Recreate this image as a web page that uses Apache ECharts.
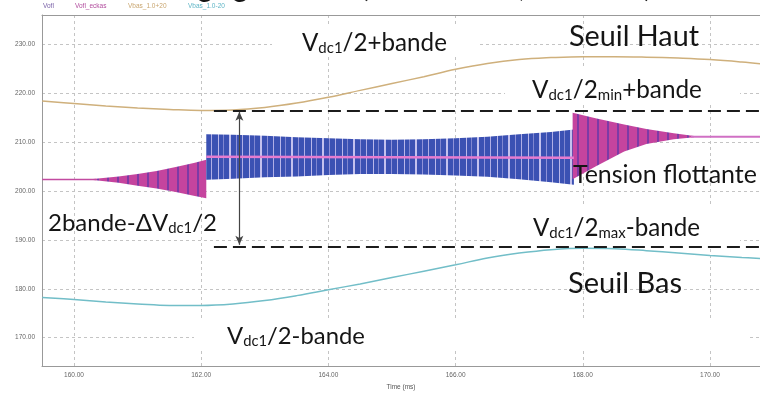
<!DOCTYPE html>
<html><head><meta charset="utf-8">
<script src="https://cdn.jsdelivr.net/npm/echarts@6/dist/echarts.min.js"></script>
<style>html,body{margin:0;padding:0;background:#fff}#c{width:760px;height:396px}</style>
</head><body><div id="c"></div>
<script>
// ---------- data ----------
const timeGrid = [159.5,160,160.5,161,161.5,162,162.5,163,163.5,164,164.5,165,165.5,166,166.5,167,167.5,168,168.5,169,169.5,170,170.5,170.8];
const seuilHaut = [218.4,217.9,217.4,217.0,216.7,216.5,216.6,217.1,218.0,219.2,220.6,222.0,223.4,224.9,226.1,226.9,227.3,227.5,227.5,227.4,227.2,226.9,226.4,226.0];
const seuilBas  = [178.2,177.8,177.3,176.9,176.6,176.6,176.9,177.6,178.6,179.8,181.0,182.3,183.6,184.9,186.3,187.3,188.0,188.3,188.2,187.8,187.3,186.8,186.4,186.2];

const preLineT = [159.5, 160.35];
const preLineV = [202.35, 202.35];
const leftWedgeT  = [160.3, 160.7, 161.0, 161.3, 161.6, 161.9, 162.08];
const leftWedgeHi = [202.45, 203.0, 203.5, 204.1, 204.9, 205.8, 206.4];
const leftWedgeLo = [202.25, 201.7, 201.1, 200.5, 199.8, 199.0, 198.5];

const bandT  = [162.08, 162.5, 163.0, 163.5, 164.0, 164.5, 165.0, 165.5, 166.0, 166.5, 167.0, 167.5, 167.86];
const bandHi = [211.6, 211.5, 211.3, 211.0, 210.8, 210.6, 210.5, 210.6, 210.8, 211.1, 211.6, 212.1, 212.6];
const bandLo = [202.3, 202.5, 202.8, 203.0, 203.3, 203.5, 203.5, 203.4, 203.2, 202.9, 202.4, 201.8, 201.3];
const centerT = [162.08, 165.0, 167.86];
const centerV = [207.0, 206.9, 206.8];

const rightWedgeT  = [167.84, 168.2, 168.65, 169.0, 169.43, 169.75];
const rightWedgeHi = [216.0, 214.9, 213.6, 212.7, 211.8, 211.25];
const rightWedgeLo = [202.4, 205.0, 208.1, 209.6, 210.6, 211.0];
const postLineT = [169.7, 170.8];
const postLineV = [211.12, 211.12];

const dashedLevels = [216.5, 188.7];
const dashedStartT = 162.2;
const arrowT = 162.6;
const arrowEnds = [216.2, 189.0];

const xTicks = [160, 162, 164, 166, 168, 170];
const yTicks = [170, 180, 190, 200, 210, 220, 230];
const xRange = [159.497, 170.786];
const yRange = [164.18, 236.02];

const legendNames = ['Vofl', 'Vofl_eckas', 'Vbas_1.0+20', 'Vbas_1.0-20'];

// ---------- styles ----------
const FONT = 'Lato';
function makePattern(w, h, base, stripes) {
  const c = document.createElement('canvas'); c.width = w; c.height = h;
  const g = c.getContext('2d'); g.fillStyle = base; g.fillRect(0, 0, w, h);
  stripes.forEach(([x, sw, col]) => { g.fillStyle = col; g.fillRect(x, 0, sw, h); });
  return c;
}
const bluePat = makePattern(31, 4, '#3b51b3', [[1,1,'#b9b7ea'],[6,1,'#7f86d0'],[12,2,'#c3c1ee'],[19,1,'#8f92d8'],[25,1,'#b0aee6']]);
const pinkPat = makePattern(10, 4, '#c5449e', [[7,2,'#7d3aa6']]);

function bandSeries(T, hi, lo, pat) {
  return {
    type: 'custom', coordinateSystem: 'cartesian2d', clip: true, silent: true, z: 2,
    data: T.map((t, i) => [t, hi[i], lo[i]]),
    encode: { x: 0, y: [1, 2] },
    renderItem(params, api) {
      if (params.dataIndex !== 0) return null;
      const pts = [];
      for (let i = 0; i < T.length; i++) pts.push(api.coord([T[i], hi[i]]));
      for (let i = T.length - 1; i >= 0; i--) pts.push(api.coord([T[i], lo[i]]));
      return { type: 'polygon', shape: { points: pts }, style: { fill: { image: pat, repeat: 'repeat' } } };
    }
  };
}
const pairs = (T, V) => T.map((t, i) => [t, V[i]]);

// annotations: parts [text, isSub], left x, baseline y, target width
const annotations = [
  { parts: [['V',0],['dc1',1],['/2+bande',0]], left: 302, base: 50, width: 145 },
  { parts: [['Seuil Haut',0]], left: 569, base: 45, width: 130 },
  { parts: [['V',0],['dc1',1],['/2',0],['min',1],['+bande',0]], left: 532, base: 97, width: 170 },
  { parts: [['Tension flottante',0]], left: 573, base: 182, width: 184 },
  { parts: [['2bande-ΔV',0],['dc1',1],['/2',0]], left: 48, base: 230, width: 169 },
  { parts: [['V',0],['dc1',1],['/2',0],['max',1],['-bande',0]], left: 533, base: 235, width: 167 },
  { parts: [['Seuil Bas',0]], left: 568, base: 292, width: 114 },
  { parts: [['V',0],['dc1',1],['/2-bande',0]], left: 227, base: 343, width: 138 }
];
const whiteBoxes = [[272,25,205,32],[505,67,235,37],[497,206,243,41],[194,318,555,33]];

const mctx = document.createElement('canvas').getContext('2d');
const SUB = 0.62;
function measure(parts, S) {
  let w = 0;
  parts.forEach(([t, s]) => { mctx.font = `${s ? S * SUB : S}px ${FONT}`; w += mctx.measureText(t).width; });
  return w;
}
function richStyle(parts, S) {
  return {
    text: parts.map(([t, s]) => `{${s ? 's' : 'n'}|${t}}`).join(''),
    rich: {
      n: { fontSize: S, fontFamily: FONT, fill: '#151515' },
      s: { fontSize: S * SUB, fontFamily: FONT, fill: '#151515', padding: [S * 0.45, 0, 0, 0] }
    },
    verticalAlign: 'middle'
  };
}
const graphics = [];
whiteBoxes.forEach(([x, y, w, h]) => graphics.push({ type: 'rect', z: 1, silent: true, shape: { x, y, width: w, height: h }, style: { fill: '#fff' } }));
annotations.forEach(a => {
  const S = 28 * a.width / measure(a.parts, 28);
  graphics.push({ type: 'text', z: 10, x: a.left, y: a.base - 0.3 * S, silent: true,
    style: Object.assign(richStyle(a.parts, S), { align: 'left' }) });
});
// cut-off title at the very top of the picture (only descenders visible)
const TS = 28;
const titleBase = -4;
graphics.push({ type: 'text', z: 10, x: 262, y: titleBase - 0.3 * TS, silent: true,
  style: Object.assign(richStyle([['Zoom sur le réglage', 0]], TS), { align: 'right' }) });
graphics.push({ type: 'text', z: 10, x: 361, y: titleBase - 0.3 * TS, silent: true,
  style: Object.assign(richStyle([['(V', 0], ['dc0', 1], [' = 400 V, f = 5 kHz)', 0]], TS), { align: 'left' }) });

const legendColors = ['#7a62a8', '#b24d9e', '#c9a670', '#5fb5c6'];
const legendX = [43, 75, 128, 188];
legendNames.forEach((n, i) => graphics.push({
  type: 'text', z: 10, x: legendX[i], y: 6, silent: true,
  style: { text: n, fill: legendColors[i], fontSize: 6.5, fontFamily: 'Liberation Sans', align: 'left', verticalAlign: 'middle' }
}));

const gridDash = { color: '#c4c4c4', width: 1, type: [3, 3] };
const chart = echarts.init(document.getElementById('c'), null, { renderer: 'canvas' });
chart.setOption({
  animation: false,
  backgroundColor: '#fff',
  grid: { left: 42, right: 0, top: 15, bottom: 23 },
  xAxis: [{
    type: 'value', min: xRange[0], max: xRange[1],
    name: 'Time (ms)', nameLocation: 'middle', nameGap: 15,
    nameTextStyle: { fontSize: 6.5, color: '#555', fontFamily: 'Liberation Sans' },
    axisLine: { lineStyle: { color: '#999', width: 1 } },
    axisTick: { show: false, customValues: xTicks },
    axisLabel: { customValues: xTicks, formatter: v => v.toFixed(2), fontSize: 6.5, color: '#666', fontFamily: 'Liberation Sans', margin: 6 },
    splitLine: { show: true, lineStyle: gridDash }
  }, {
    type: 'value', min: xRange[0], max: xRange[1], position: 'top',
    axisLine: { show: true, lineStyle: { color: '#999', width: 1 } },
    axisTick: { show: false }, axisLabel: { show: false }, splitLine: { show: false }
  }],
  yAxis: {
    type: 'value', min: yRange[0], max: yRange[1],
    axisLine: { show: true, lineStyle: { color: '#999', width: 1 } },
    axisTick: { show: false, customValues: yTicks },
    axisLabel: { customValues: yTicks, formatter: v => v.toFixed(2), fontSize: 6.5, color: '#666', fontFamily: 'Liberation Sans', margin: 7 },
    splitLine: { show: true, lineStyle: gridDash }
  },
  graphic: graphics,
  series: [
    { name: 'Vbas_1.0+20', type: 'line', data: pairs(timeGrid, seuilHaut), smooth: 0.4, symbol: 'none', z: 3,
      lineStyle: { color: '#cfb07c', width: 1.5 },
      markLine: { silent: true, symbol: ['none','none'], label: { show: false },
        lineStyle: { color: '#1c1c1c', width: 2, type: [13, 6] },
        data: dashedLevels.map(l => [{ coord: [dashedStartT, l] }, { coord: [xRange[1], l] }]) } },
    { name: 'Vbas_1.0-20', type: 'line', data: pairs(timeGrid, seuilBas), smooth: 0.4, symbol: 'none', z: 3,
      lineStyle: { color: '#72bec8', width: 1.5 },
      markLine: { silent: true, symbol: ['arrow','arrow'], symbolSize: [6, 9], label: { show: false },
        lineStyle: { color: '#444', width: 1.2, type: 'solid' },
        data: [[{ coord: [arrowT, arrowEnds[0]] }, { coord: [arrowT, arrowEnds[1]] }]] } },
    bandSeries(leftWedgeT, leftWedgeHi, leftWedgeLo, pinkPat),
    bandSeries(bandT, bandHi, bandLo, bluePat),
    bandSeries(rightWedgeT, rightWedgeHi, rightWedgeLo, pinkPat),
    { name: 'Vofl', type: 'line', data: pairs(preLineT, preLineV), symbol: 'none', z: 4, lineStyle: { color: '#c24aa0', width: 1.5 } },
    { name: 'Vofl_eckas', type: 'line', data: pairs(centerT, centerV), symbol: 'none', z: 4, lineStyle: { color: '#e67cd0', width: 2.5 } },
    { name: 'Vofl_end', type: 'line', data: pairs(postLineT, postLineV), symbol: 'none', z: 4, lineStyle: { color: '#d070c4', width: 2 } }
  ]
});
</script></body></html>
